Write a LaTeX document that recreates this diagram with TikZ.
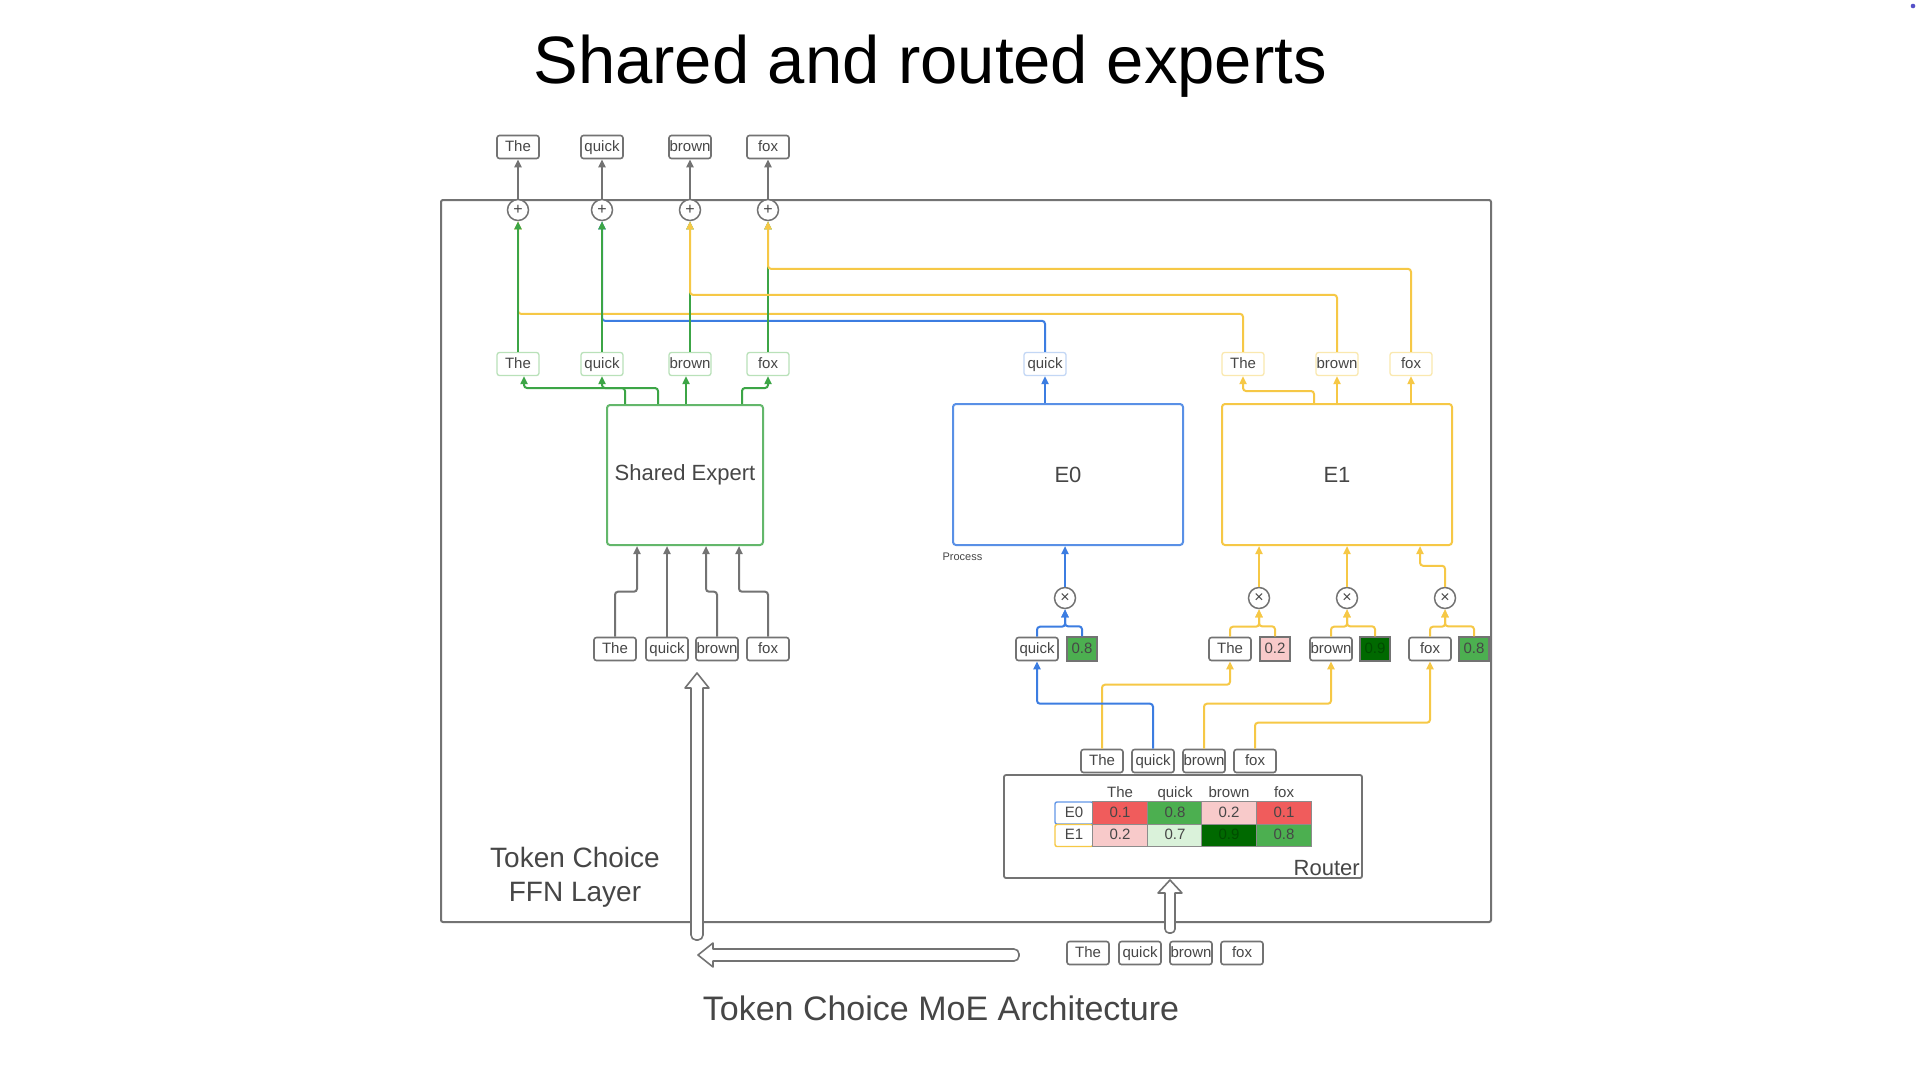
\documentclass[tikz,border=0pt]{standalone}
\usepackage{fontspec}
\setmainfont{Liberation Sans}
\usetikzlibrary{arrows.meta}
\newcommand\myfs[1]{\fontsize{#1}{#1}\selectfont}
\definecolor{gline}{RGB}{60,165,70}
\definecolor{gpale}{RGB}{185,225,185}
\definecolor{yline}{RGB}{246,200,70}
\definecolor{ypale}{RGB}{250,232,175}
\definecolor{bline}{RGB}{60,125,225}
\definecolor{bpale}{RGB}{195,215,245}
\definecolor{tokgray}{RGB}{115,115,115}
\definecolor{txtgray}{RGB}{70,70,70}
\definecolor{cred}{RGB}{240,92,92}
\definecolor{cpink}{RGB}{248,202,202}
\definecolor{cgreen}{RGB}{76,175,80}
\definecolor{clgreen}{RGB}{218,242,218}
\definecolor{cdgreen}{RGB}{0,105,0}
\definecolor{dotblue}{RGB}{85,80,200}
\tikzset{
  tok/.style={draw=tokgray, line width=1.6pt, rounded corners=2.5pt, fill=white,
    minimum width=42pt, minimum height=23pt, inner sep=0pt, font=\myfs{15}, text=txtgray,
    text height=11pt, text depth=3pt},
  otok/.style={tok, line width=1.3pt},
  score/.style={draw=tokgray, line width=1.4pt, minimum width=30pt, minimum height=24pt,
    inner sep=0pt, font=\myfs{15}, text=txtgray, text height=11pt, text depth=3pt},
  opc/.style={circle, draw=tokgray, line width=1.5pt, minimum size=21pt, inner sep=0pt,
    font=\myfs{16}, text=txtgray, fill=white},
  exbox/.style={draw, line width=2pt, rounded corners=3pt, inner sep=0pt, font=\myfs{22}, text=txtgray},
  conn/.style={line width=2pt, rounded corners=3pt, -{Triangle[length=8pt,width=7pt]}},
  gr/.style={conn, draw=gline},
  yl/.style={conn, draw=yline},
  bl/.style={conn, draw=bline},
  gy/.style={conn, draw=tokgray},
  cell/.style={draw=black!45, line width=0.7pt, minimum width=54.5pt, minimum height=22.5pt,
    inner sep=0pt, font=\myfs{15}, text=txtgray, text height=11pt, text depth=3pt},
  lcell/.style={line width=1.4pt, rounded corners=2pt, minimum width=38pt, minimum height=22pt,
    inner sep=0pt, font=\myfs{15}, text=txtgray, text height=11pt, text depth=3pt},
  hdr/.style={font=\myfs{15}, text=txtgray, text height=11pt, text depth=3pt, inner sep=0pt},
  hollow/.style={draw=tokgray, line width=1.6pt, fill=white, line join=round},
  lbl/.style={font=\fontsize{28}{34}\selectfont, text=txtgray, align=center}
}
\begin{document}
\begin{tikzpicture}[x=1pt,y=-1pt]
\useasboundingbox[fill=white] (0,0) rectangle (1920,1080);

% title
\node[font=\myfs{67}, anchor=base] (title) at (930,83) {Shared and routed experts};
\fill[dotblue] (1913,6) circle (2.3);

% outer box
\node[draw=tokgray, line width=2pt, rounded corners=2pt, minimum width=1050pt, minimum height=722pt,
  inner sep=0pt] (outer) at (966,561) {};

% top output tokens
\node[tok] (tThe) at (518,147) {The};
\node[tok] (tQuick) at (602,147) {quick};
\node[tok] (tBrown) at (690,147) {brown};
\node[tok] (tFox) at (768,147) {fox};
% plus circles
\node[opc] (pThe) at (518,210) {+};
\node[opc] (pQuick) at (602,210) {+};
\node[opc] (pBrown) at (690,210) {+};
\node[opc] (pFox) at (768,210) {+};
\foreach \n in {The,Quick,Brown,Fox} \draw[gy] (p\n.north) -- (t\n.south);

% shared expert outputs
\node[otok, draw=gpale] (mThe) at (518,364) {The};
\node[otok, draw=gpale] (mQuick) at (602,364) {quick};
\node[otok, draw=gpale] (mBrown) at (690,364) {brown};
\node[otok, draw=gpale] (mFox) at (768,364) {fox};

% routed outputs
\node[otok, draw=bpale] (oQuick) at (1045,364) {quick};
\node[otok, draw=ypale] (oThe) at (1243,364) {The};
\node[otok, draw=ypale] (oBrown) at (1337,364) {brown};
\node[otok, draw=ypale] (oFox) at (1411,364) {fox};

% experts
\node[exbox, draw=gline!80, minimum width=156pt, minimum height=140pt] (se) at (685,475) {Shared Expert};
\node[exbox, draw=bline!85, minimum width=230pt, minimum height=141pt] (e0) at (1068,474.5) {E0};
\node[exbox, draw=yline, minimum width=230pt, minimum height=141pt] (e1) at (1337,474.5) {E1};
\node[font=\myfs{11}, text=txtgray, anchor=west] (proc) at (939,557) {Process};

% combine lines (routed outputs to plus)
\draw[yl] (oThe.north) -- ++(0,-38) -| (pThe.south);
\draw[bl] (oQuick.north) -- ++(0,-31) -| (pQuick.south);
\foreach \n in {The,Quick,Brown,Fox} \draw[gr] (m\n.north) -- (p\n.south);
\draw[yl] (oBrown.north) -- ++(0,-57) -| (pBrown.south);
\draw[yl] (oFox.north) -- ++(0,-83) -| (pFox.south);

% shared expert to its outputs
\draw[gr] ([xshift=-60pt]se.north) -- ++(0,-16) -| ([xshift=6pt]mThe.south);
\draw[gr] ([xshift=-27pt]se.north) -- ++(0,-16) -| (mQuick.south);
\draw[gr] ([xshift=1pt]se.north) -- ([xshift=-4pt]mBrown.south);
\draw[gr] ([xshift=57pt]se.north) -- ++(0,-16) -| (mFox.south);

% routed experts to outputs
\draw[bl] (e0.north -| oQuick) -- (oQuick.south);
\draw[yl] ([xshift=-23pt]e1.north) -- ++(0,-12) -| (oThe.south);
\draw[yl] (e1.north -| oBrown) -- (oBrown.south);
\draw[yl] (e1.north -| oFox) -- (oFox.south);

% shared expert inputs
\node[tok] (sThe) at (615,649) {The};
\node[tok] (sQuick) at (667,649) {quick};
\node[tok] (sBrown) at (717,649) {brown};
\node[tok] (sFox) at (768,649) {fox};
\draw[gy] (sThe.north) -- ++(0,-45) -| ([xshift=-48pt]se.south);
\draw[gy] (sQuick.north) -- (sQuick.north |- se.south);
\draw[gy] (sBrown.north) -- ++(0,-45) -| ([xshift=21pt]se.south);
\draw[gy] (sFox.north) -- ++(0,-45) -| ([xshift=54pt]se.south);

% multiply circles
\node[opc] (x0) at (1065,598) {×};
\node[opc] (xThe) at (1259,598) {×};
\node[opc] (xBrown) at (1347,598) {×};
\node[opc] (xFox) at (1445,598) {×};
\draw[bl] (x0.north) -- (x0.north |- e0.south);
\draw[yl] (xThe.north) -- (xThe.north |- e1.south);
\draw[yl] (xBrown.north) -- (xBrown.north |- e1.south);
\draw[yl] (xFox.north) -- ++(0,-21) -| ([xshift=83pt]e1.south);

% token / weight pairs
\node[tok] (kQuick) at (1037,649) {quick};
\node[score, fill=cgreen] (wQuick) at (1082,649) {0.8};
\node[tok] (kThe) at (1230,649) {The};
\node[score, fill=cpink] (wThe) at (1275,649) {0.2};
\node[tok] (kBrown) at (1331,649) {brown};
\node[score, fill=cdgreen, text=black!70!green] (wBrown) at (1375,649) {0.9};
\node[tok] (kFox) at (1430,649) {fox};
\node[score, fill=cgreen] (wFox) at (1474,649) {0.8};
\draw[bl] (kQuick.north) -- ++(0,-10) -| (x0.south);
\draw[bl] (wQuick.north) -- ++(0,-10) -| (x0.south);
\foreach \n in {The,Brown,Fox}{
  \draw[yl] (k\n.north) -- ++(0,-10) -| (x\n.south);
  \draw[yl] (w\n.north) -- ++(0,-10) -| (x\n.south);
}

% router tokens
\node[tok] (rThe) at (1102,761) {The};
\node[tok] (rQuick) at (1153,761) {quick};
\node[tok] (rBrown) at (1204,761) {brown};
\node[tok] (rFox) at (1255,761) {fox};
\draw[yl] (rThe.north) -- ++(0,-64) -| (kThe.south);
\draw[bl] (rQuick.north) -- ++(0,-45) -| (kQuick.south);
\draw[yl] (rBrown.north) -- ++(0,-45) -| (kBrown.south);
\draw[yl] (rFox.north) -- ++(0,-26) -| (kFox.south);

% router
\node[draw=tokgray, line width=1.8pt, rounded corners=2pt, minimum width=358pt, minimum height=103pt,
  inner sep=0pt] (router) at (1183,826.5) {};
\node[font=\myfs{22}, text=txtgray, anchor=south east, inner sep=3pt] (rlabel) at (router.south east) {Router};
\foreach \w/\x in {The/1120,quick/1175,brown/1229,fox/1284}
  \node[hdr] (h\w) at (\x,793) {\w};
\node[lcell, draw=bline!80] (lE0) at (1074,813) {E0};
\node[lcell, draw=yline] (lE1) at (1074,835.5) {E1};
\node[cell, fill=cred] (c00) at (1120,813) {0.1};
\node[cell, fill=cgreen] (c01) at (1175,813) {0.8};
\node[cell, fill=cpink] (c02) at (1229,813) {0.2};
\node[cell, fill=cred] (c03) at (1284,813) {0.1};
\node[cell, fill=cpink] (c10) at (1120,835.5) {0.2};
\node[cell, fill=clgreen] (c11) at (1175,835.5) {0.7};
\node[cell, fill=cdgreen, text=black!70!green] (c12) at (1229,835.5) {0.9};
\node[cell, fill=cgreen] (c13) at (1284,835.5) {0.8};

% input tokens
\node[tok] (iThe) at (1088,953) {The};
\node[tok] (iQuick) at (1140,953) {quick};
\node[tok] (iBrown) at (1191,953) {brown};
\node[tok] (iFox) at (1242,953) {fox};

% hollow arrows
\draw[hollow] (1170,933) [rounded corners=4pt] -- (1165,933) [sharp corners] -- (1165,893) -- (1158,893)
  -- (1170,880) -- (1182,893) -- (1175,893) [rounded corners=4pt] -- (1175,933) [sharp corners] -- cycle;
\draw[hollow] (1019,955) [rounded corners=5pt] -- (1019,961) [sharp corners] -- (713,961) -- (713,967)
  -- (698,955) -- (713,943) -- (713,949) [rounded corners=5pt] -- (1019,949) [sharp corners] -- cycle;
\draw[hollow] (697,940) [rounded corners=5pt] -- (691,940) [sharp corners] -- (691,688) -- (685,688)
  -- (697,673) -- (709,688) -- (703,688) [rounded corners=5pt] -- (703,940) [sharp corners] -- cycle;

% labels
\node[lbl] (ffn) at (575,877) {Token Choice\\FFN Layer};
\node[font=\myfs{34}, text=txtgray] (arch) at (941,1008) {Token Choice MoE Architecture};
\end{tikzpicture}
\end{document}
